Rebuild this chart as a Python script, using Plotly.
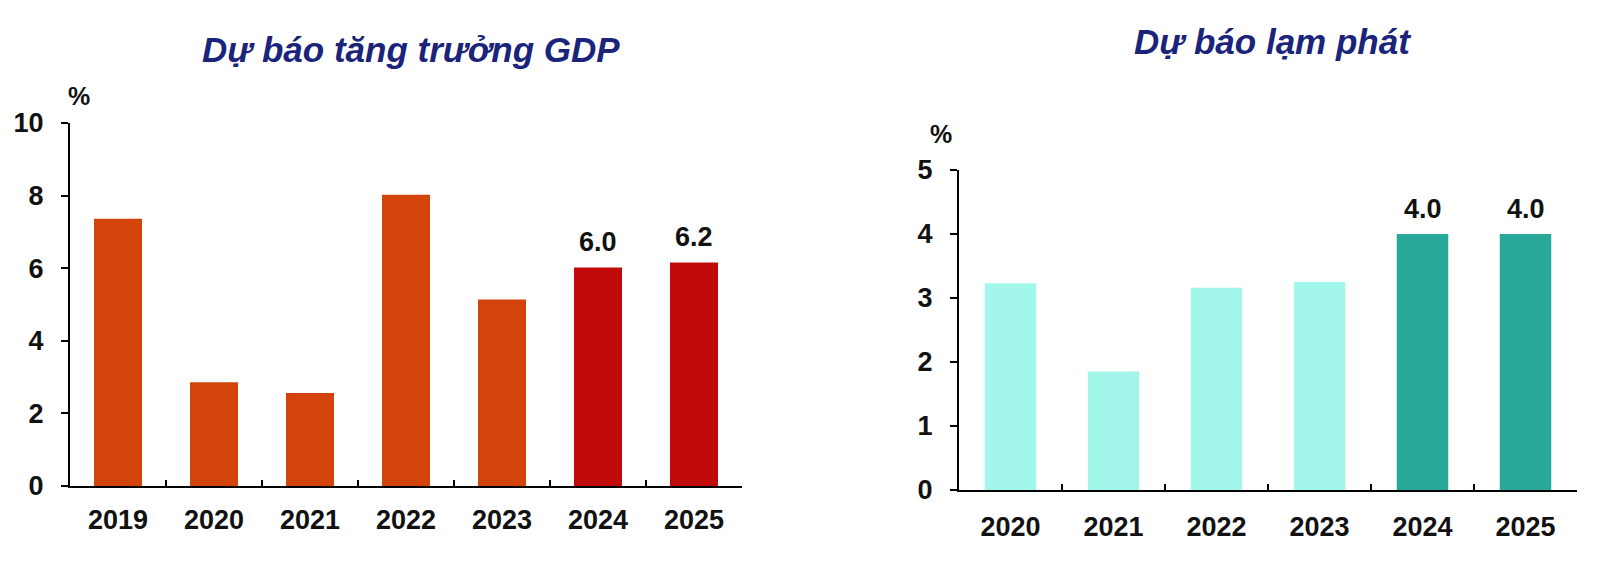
import plotly.graph_objects as go

# ---- data ----
gdp_years = ["2019", "2020", "2021", "2022", "2023", "2024", "2025"]
gdp_values = [7.36, 2.86, 2.56, 8.02, 5.14, 6.02, 6.16]
gdp_labels = ["", "", "", "", "", "6.0", "6.2"]

cpi_years = ["2020", "2021", "2022", "2023", "2024", "2025"]
cpi_values = [3.23, 1.85, 3.16, 3.25, 4.0, 4.0]
cpi_labels = ["", "", "", "", "4.0", "4.0"]

forecast_years = ["2024", "2025"]

gdp_title = "Dự báo tăng trưởng GDP"
cpi_title = "Dự báo lạm phát"
unit = "%"

# ---- style ----
W, H = 1600, 566
FONT = "Liberation Sans, Arial, sans-serif"
TITLE_COLOR = "#19247a"
TXT = "#111111"
GDP_HIST, GDP_FC = "#d2440c", "#c10a0a"
CPI_HIST, CPI_FC = "#a2f6ea", "#28a898"


def px_x(p):
    return p / W


def px_y(p):
    return 1 - p / H


gdp_colors = [GDP_FC if y in forecast_years else GDP_HIST for y in gdp_years]
cpi_colors = [CPI_FC if y in forecast_years else CPI_HIST for y in cpi_years]

fig = go.Figure()
fig.add_trace(go.Bar(x=gdp_years, y=gdp_values, marker=dict(color=gdp_colors, line=dict(width=0)),
                     xaxis="x", yaxis="y", showlegend=False, hoverinfo="x+y"))
fig.add_trace(go.Bar(x=cpi_years, y=cpi_values, marker=dict(color=cpi_colors, line=dict(width=0)),
                     xaxis="x2", yaxis="y2", showlegend=False, hoverinfo="x+y"))

axis_common = dict(showline=True, linecolor="black", linewidth=2, showgrid=False, zeroline=False,
                   tickcolor="black", tickwidth=2, automargin=False,
                   tickfont=dict(family=FONT, size=27, color=TXT, weight="bold"))

fig.update_layout(
    width=W, height=H,
    margin=dict(l=0, r=0, t=0, b=0, pad=0, autoexpand=False),
    paper_bgcolor="white", plot_bgcolor="white",
    bargap=0.5,
    xaxis=dict(domain=[px_x(70), px_x(742)], anchor="y", type="category",
               range=[-0.5, len(gdp_years) - 0.5], ticks="inside", ticklen=6,
               tickson="boundaries", ticklabelstandoff=9, **axis_common),
    yaxis=dict(domain=[px_y(486), px_y(123)], anchor="x", range=[0, 10], dtick=2,
               ticks="outside", ticklen=7, ticklabelstandoff=12, **axis_common),
    xaxis2=dict(domain=[px_x(959), px_x(1577)], anchor="y2", type="category",
                range=[-0.5, len(cpi_years) - 0.5], ticks="inside", ticklen=6,
                tickson="boundaries", ticklabelstandoff=12, **axis_common),
    yaxis2=dict(domain=[px_y(490), px_y(170)], anchor="x2", range=[0, 5], dtick=1,
                ticks="outside", ticklen=7, ticklabelstandoff=12, **axis_common),
)

ann = []
# titles
ann.append(dict(text=f"<i><b>{gdp_title}</b></i>", x=px_x(411), y=px_y(50), xref="paper", yref="paper",
                showarrow=False, xanchor="center", yanchor="middle",
                font=dict(family=FONT, size=35, color=TITLE_COLOR)))
ann.append(dict(text=f"<i><b>{cpi_title}</b></i>", x=px_x(1272), y=px_y(42), xref="paper", yref="paper",
                showarrow=False, xanchor="center", yanchor="middle",
                font=dict(family=FONT, size=35, color=TITLE_COLOR)))
# unit labels
ann.append(dict(text=f"<b>{unit}</b>", x=px_x(79), y=px_y(96), xref="paper", yref="paper",
                showarrow=False, xanchor="center", yanchor="middle",
                font=dict(family=FONT, size=25, color=TXT)))
ann.append(dict(text=f"<b>{unit}</b>", x=px_x(941), y=px_y(134), xref="paper", yref="paper",
                showarrow=False, xanchor="center", yanchor="middle",
                font=dict(family=FONT, size=25, color=TXT)))
# value labels (category axes: position by category index)
for i, (yv, lab) in enumerate(zip(gdp_values, gdp_labels)):
    if lab:
        ann.append(dict(text=f"<b>{lab}</b>", x=i, y=yv, xref="x", yref="y", showarrow=False,
                        xanchor="center", yanchor="bottom", yshift=8,
                        font=dict(family=FONT, size=27, color=TXT)))
for i, (yv, lab) in enumerate(zip(cpi_values, cpi_labels)):
    if lab:
        ann.append(dict(text=f"<b>{lab}</b>", x=i, y=yv, xref="x2", yref="y2", showarrow=False,
                        xanchor="center", yanchor="bottom", yshift=8,
                        font=dict(family=FONT, size=27, color=TXT)))
fig.update_layout(annotations=ann)

fig.write_html("out.html", config={"displayModeBar": False},
               post_script="document.body.style.margin='0';")
